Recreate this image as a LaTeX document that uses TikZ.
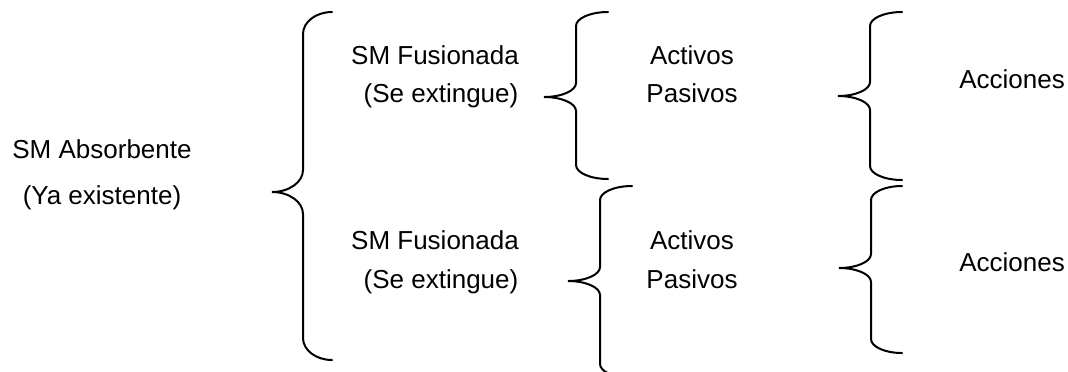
\documentclass[tikz,border=0pt]{standalone}
\usepackage{fontspec}
\setmainfont{Liberation Sans}
\usetikzlibrary{positioning}

% brace opening to the right:
% #1 end x, #2 spine x, #3 tip x, #4 top y, #5 tip y, #6 bottom y, #7 end curl, #8 tip curl
\newcommand{\curlybrace}[8]{%
    \draw[bracestroke] (#1,#4)
        .. controls ({#1-0.552*(#1-#2)},#4) and (#2,{#4+0.448*#7}) .. (#2,{#4+#7})
        -- (#2,{#5-#8})
        .. controls (#2,{#5-0.448*#8}) and ({#3+0.552*(#2-#3)},#5) .. (#3,#5)
        .. controls ({#3+0.552*(#2-#3)},#5) and (#2,{#5+0.448*#8}) .. (#2,{#5+#8})
        -- (#2,{#6-#7})
        .. controls (#2,{#6-0.448*#7}) and ({#1-0.552*(#1-#2)},#6) .. (#1,#6);}

\tikzset{
    lbl/.style={anchor=base, inner sep=0pt, font=\fontsize{13}{15}\selectfont},
    bracestroke/.style={line width=1pt, line cap=round}
}

\begin{document}
\begin{tikzpicture}[x=0.5pt, y=-0.5pt]
    \useasboundingbox (0, 0) rectangle (1068, 371);

    % absorbing company
    \node[lbl] (absorb) at (102, 158) {SM Absorbente};
    \node[lbl] (absorbnote) at (102, 204) {(Ya existente)};

    % merged companies
    \node[lbl] (fusA) at (435, 64) {SM Fusionada};
    \node[lbl] (extA) at (441, 102) {(Se extingue)};
    \node[lbl] (fusB) at (435, 249) {SM Fusionada};
    \node[lbl] (extB) at (441, 288) {(Se extingue)};

    % assets and liabilities
    \node[lbl] (actA) at (692, 64) {Activos};
    \node[lbl] (pasA) at (692, 102) {Pasivos};
    \node[lbl] (actB) at (692, 249) {Activos};
    \node[lbl] (pasB) at (692, 288) {Pasivos};

    % shares
    \node[lbl] (accA) at (1012, 88) {Acciones};
    \node[lbl] (accB) at (1012, 271) {Acciones};

    % braces
    \curlybrace{332}{303}{272}{12}{192}{360}{22}{22}
    \curlybrace{608}{576}{544}{12}{97}{179}{14}{14}
    \curlybrace{632}{600}{568}{186}{281}{378}{14}{14}
    \curlybrace{902}{870}{838}{12}{96}{180}{14}{14}
    \curlybrace{902}{871}{839}{186}{268}{353}{14}{14}
\end{tikzpicture}
\end{document}
